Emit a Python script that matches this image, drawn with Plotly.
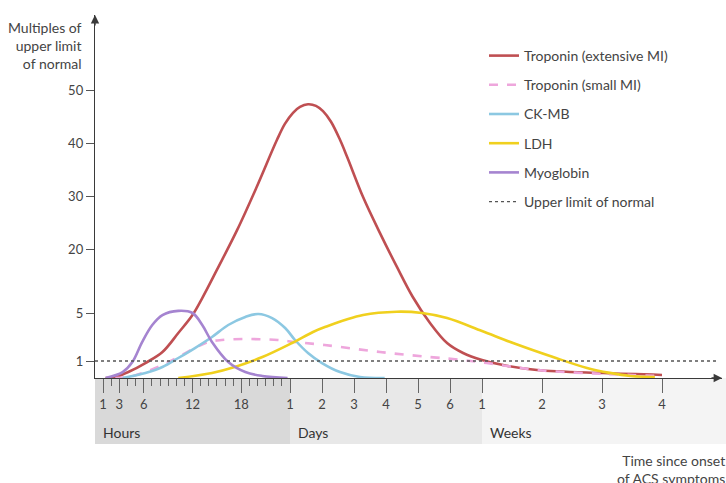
import numpy as np
import plotly.graph_objects as go

# ---- time points (hours since onset) and levels (multiples of ULN) ----
trop_ext_t = [1.3, 2.5, 4.1, 6.2, 8.3, 10.25, 12.0, 13.2, 15.0, 17.5, 19.9, 22.4, 23.37, 26.25, 31.5,
              37.5, 43.5, 48.75, 54.75, 61.5, 66.8, 78.8, 91.5, 104.2, 116.1, 129, 141.8, 153.8, 168,
              227, 322, 507, 672]
trop_ext_v = [0, 0.06, 0.35, 0.88, 1.75, 3.33, 4.83, 8.5, 15.1, 23.6, 31.7, 40.6, 43.6, 45.7, 46.8,
              47.3, 47.0, 46.0, 44.0, 40.6, 37.4, 29.8, 23.0, 15.8, 8.75, 4.17, 2.5, 1.67, 1.08,
              0.76, 0.47, 0.29, 0.18]

trop_small_t = [2.5, 4.1, 6.2, 8.3, 10.25, 12.3, 13.9, 15.6, 18.5, 22.5, 27.75, 50, 91.5, 129, 153.8,
                182, 322, 507, 672]
trop_small_v = [0, 0.06, 0.35, 0.76, 1.33, 2.08, 2.58, 2.75, 2.83, 2.75, 2.58, 2.33, 1.75, 1.33, 1.08,
                0.88, 0.47, 0.24, 0.12]

ckmb_t = [3.4, 6.2, 8.3, 10.25, 12.3, 14.4, 16.4, 18.5, 20.1, 21.8, 23.4, 27.75, 37.5, 48, 61.5, 76.5, 95]
ckmb_v = [0, 0.3, 0.65, 1.25, 2.08, 3.0, 4.0, 4.67, 4.92, 4.58, 3.75, 2.75, 1.67, 0.88, 0.35, 0.06, 0]

ldh_t = [10.25, 14.4, 17.2, 20.6, 25.5, 41.25, 50.2, 78.8, 104, 123, 141.8, 168, 255, 367, 462,
         526, 583, 652]
ldh_v = [0, 0.3, 0.65, 1.33, 2.5, 3.42, 3.83, 4.83, 5.3, 5.0, 4.58, 3.5, 2.5, 1.33, 0.59,
         0.3, 0.12, 0.06]

myo_t = [1.3, 3.4, 4.6, 5.8, 7.05, 8.3, 10.25, 12.0, 13.2, 14.4, 16.4, 18.5, 20.6, 23.7]
myo_v = [0, 0.35, 0.94, 2.58, 4.0, 4.83, 5.5, 5.0, 4.0, 2.58, 0.94, 0.35, 0.12, 0]

uln_level = 1

# ---- axis labels ----
hour_ticks = [1, 3, 6, 12, 18]
day_ticks = [1, 2, 3, 4, 5, 6]
week_ticks = [1, 2, 3, 4]
y_ticks = [1, 5, 20, 30, 40, 50]
legend_names = ["Troponin (extensive MI)", "Troponin (small MI)", "CK-MB", "LDH", "Myoglobin",
                "Upper limit of normal"]

# ---- piecewise scales: hours / days / weeks segments, compressed low range on y ----
HOUR_W, DAY_W, WEEK_W = 195 / 24, 32, 60
X_MAX = 627
Y_MAX = 363


def xpos(h):
    h = float(h)
    if h <= 24:
        return h * HOUR_W
    if h <= 168:
        return 195 + (h / 24 - 1) * DAY_W
    return 387 + (h / 168 - 1) * WEEK_W


Y_BREAKS = [0, 1, 5, 20, 50]
Y_POS = [0, 17, 65, 129, 288]


def ypos(v):
    return float(np.interp(v, Y_BREAKS, Y_POS))


def xs(ts):
    return [xpos(t) for t in ts]


def ys(vs):
    return [ypos(v) for v in vs]


FONT = "Lato, 'Open Sans', sans-serif"
TXT = "#444444"
AX = "#3a3a3a"

series = [
    (trop_ext_t, trop_ext_v, legend_names[0], "#bf4f52", "solid"),
    (trop_small_t, trop_small_v, legend_names[1], "#eea6dc", "dash"),
    (ckmb_t, ckmb_v, legend_names[2], "#8cc8e2", "solid"),
    (ldh_t, ldh_v, legend_names[3], "#f0d01e", "solid"),
    (myo_t, myo_v, legend_names[4], "#a584d0", "solid"),
]

fig = go.Figure()

for i, (t, v, name, col, dash) in enumerate(series):
    fig.add_trace(go.Scatter(
        x=xs(t), y=ys(v), name=name, mode="lines",
        line=dict(color=col, width=2.6, dash=dash, shape="spline", smoothing=1.0),
        legendgroup=f"g{i}", legendrank=i + 1, cliponaxis=False,
    ))

fig.add_trace(go.Scatter(
    x=[0, X_MAX - 4], y=[ypos(uln_level)] * 2, name=legend_names[5], mode="lines",
    line=dict(color="#555555", width=1.3, dash="dot"),
    legendgroup="g5", legendrank=6,
))

# shaded time-scale bands under the axis
band_h = 66 / Y_MAX
bands = [(0, xpos(24), "#d9d9d9"), (xpos(24), xpos(168), "#e8e8e8"), (xpos(168), 631, "#f4f4f4")]
for x0, x1, c in bands:
    fig.add_shape(type="rect", xref="paper", yref="paper", x0=x0 / X_MAX, x1=x1 / X_MAX,
                  y0=-band_h, y1=0, fillcolor=c, line_width=0, layer="below")

for label, h in [("Hours", 0), ("Days", 24), ("Weeks", 168)]:
    fig.add_annotation(x=(xpos(h) + 6) / X_MAX, y=-54 / Y_MAX, xref="paper", yref="paper",
                       text=label, showarrow=False, xanchor="left", yanchor="middle",
                       font=dict(family=FONT, size=14, color="#333333"))

# arrow heads at the ends of both axes
fig.add_annotation(x=X_MAX, y=0, ax=-12, ay=0, xref="x", yref="y",
                   text="", showarrow=True, arrowhead=2, arrowsize=1.2, arrowwidth=1.4,
                   arrowcolor=AX)
fig.add_annotation(x=0, y=Y_MAX, ax=0, ay=12, xref="x", yref="y",
                   text="", showarrow=True, arrowhead=2, arrowsize=1.2, arrowwidth=1.4,
                   arrowcolor=AX)

# axis titles
fig.add_annotation(x=-11 / X_MAX, y=(Y_MAX - 2) / Y_MAX, xref="paper", yref="paper",
                   text="Multiples of<br>upper limit<br>of normal", showarrow=False,
                   xanchor="right", yanchor="top", align="right",
                   font=dict(family=FONT, size=14, color=TXT))
fig.add_annotation(x=632 / X_MAX, y=-71.5 / Y_MAX, xref="paper", yref="paper",
                   text="Time since onset<br>of ACS symptoms", showarrow=False,
                   xanchor="right", yanchor="top", align="right",
                   font=dict(family=FONT, size=14, color=TXT))

x_tickvals = ([xpos(h) for h in hour_ticks] + [xpos(24 * d) for d in day_ticks]
              + [xpos(168 * w) for w in week_ticks])
x_ticktext = [str(h) for h in hour_ticks] + [str(d) for d in day_ticks] + [str(w) for w in week_ticks]
minor_hours = [h for h in range(1, 24) if h not in hour_ticks]

fig.update_xaxes(
    range=[0, X_MAX], showgrid=False, zeroline=False,
    showline=True, linecolor=AX, linewidth=1.4,
    tickmode="array", tickvals=x_tickvals, ticktext=x_ticktext,
    ticks="outside", ticklen=14, tickwidth=1.3, tickcolor="#666666",
    tickfont=dict(family=FONT, size=13, color=TXT),
    minor=dict(tickmode="array", tickvals=[xpos(h) for h in minor_hours], ticks="outside",
               ticklen=7, tickwidth=1.3, tickcolor="#666666", showgrid=False),
)
fig.update_yaxes(
    range=[0, Y_MAX], showgrid=False, zeroline=False,
    showline=True, linecolor=AX, linewidth=1.4,
    tickmode="array", tickvals=[ypos(v) for v in y_ticks], ticktext=[str(v) for v in y_ticks],
    ticks="outside", ticklen=8, tickwidth=1.3, tickcolor="#555555",
    tickfont=dict(family=FONT, size=13, color=TXT),
)

fig.update_layout(
    width=726, height=483,
    margin=dict(l=95, r=4, t=15, b=105),
    plot_bgcolor="white", paper_bgcolor="white",
    showlegend=True,
    legend=dict(x=389 / X_MAX, y=(Y_MAX - 25) / Y_MAX, xanchor="left", yanchor="top",
                font=dict(family=FONT, size=14, color=TXT), tracegroupgap=8,
                bgcolor="rgba(0,0,0,0)"),
)

fig.write_html("out.html")
